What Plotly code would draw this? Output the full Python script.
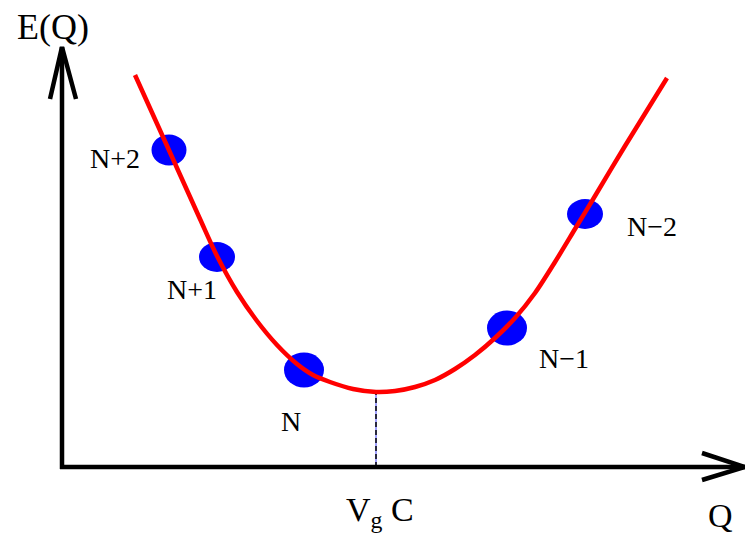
import plotly.graph_objects as go

# Charging energy E(Q) versus island charge Q (axis origin at Q=0, E=0)
curve_q = [73, 106, 138, 155, 175, 195, 215, 235, 251, 268, 291, 314,
           333, 353, 373, 393, 413, 433, 453, 473, 493, 513, 533, 563, 605]
curve_e = [392, 319, 248, 211, 175, 146, 122, 103, 92, 85, 78, 75,
           76, 80, 87, 98, 112, 129, 149, 174, 205, 238, 271, 321, 389]

# Charge states N+2 ... N-2 sitting on the curve
state_labels = ["N+2", "N+1", "N", "N\u22121", "N\u22122"]
state_q = [107, 155, 242, 445, 523]
state_e = [317, 210, 97, 139, 253]
label_q = [52.5, 129.5, 229, 501.5, 589.5]
label_e = [308.5, 177.5, 46, 109, 240.5]

# Gate-charge position of the minimum
vgc_q = 314
vgc_e = 74

# Axis extents (arrow tips)
q_axis_end = 683
e_axis_end = 420

# styling
dot_w = [35, 36, 40, 40, 36]
dot_h = [31, 30, 35, 35, 30]
serif = "Liberation Serif"

fig = go.Figure()

fig.add_trace(go.Scatter(
    x=curve_q, y=curve_e, mode="lines",
    line=dict(color="#ff0000", width=4.5, shape="spline", smoothing=0.8),
    hoverinfo="skip", showlegend=False,
))

shapes = []
for q, e, w, h in zip(state_q, state_e, dot_w, dot_h):
    shapes.append(dict(type="circle", xref="x", yref="y",
                       x0=q - w / 2, x1=q + w / 2, y0=e - h / 2, y1=e + h / 2,
                       fillcolor="#0000ff", line=dict(width=0), layer="below"))

# dashed marker under the minimum
shapes.append(dict(type="line", x0=vgc_q, x1=vgc_q, y0=0, y1=vgc_e,
                   line=dict(color="#8080ff", width=1.5), layer="below"))
shapes.append(dict(type="line", x0=vgc_q, x1=vgc_q, y0=0, y1=vgc_e,
                   line=dict(color="#000000", width=1.5, dash="5px,3px"), layer="below"))

# axes with open arrowheads
ax = dict(color="#000000", width=4.5)
shapes += [
    dict(type="line", x0=0, x1=0, y0=-2, y1=e_axis_end, line=ax),
    dict(type="line", x0=-2, x1=q_axis_end, y0=0, y1=0, line=ax),
    dict(type="path", path=f"M -12,{e_axis_end - 52} L 0,{e_axis_end} L 14,{e_axis_end - 52}", line=ax),
    dict(type="path", path=f"M {q_axis_end - 43},14 L {q_axis_end},0 L {q_axis_end - 43},-13", line=ax),
]

annotations = []
for t, q, e in zip(state_labels, label_q, label_e):
    annotations.append(dict(x=q, y=e, text=t, showarrow=False,
                            font=dict(family=serif, size=28, color="#000000"),
                            xanchor="center", yanchor="middle"))
annotations += [
    dict(x=-9, y=440, text="E(Q)", showarrow=False,
         font=dict(family=serif, size=36, color="#000000"),
         xanchor="center", yanchor="middle"),
    dict(x=658, y=-48, text="Q", showarrow=False,
         font=dict(family=serif, size=34, color="#000000"),
         xanchor="center", yanchor="middle"),
    dict(x=vgc_q + 4, y=-45, text="V<sub>g</sub> C", showarrow=False,
         font=dict(family=serif, size=34, color="#000000"),
         xanchor="center", yanchor="middle"),
]

fig.update_layout(
    width=745, height=541,
    margin=dict(l=0, r=0, t=0, b=0),
    paper_bgcolor="#ffffff", plot_bgcolor="#ffffff",
    xaxis=dict(range=[-62, 683], visible=False, fixedrange=True),
    yaxis=dict(range=[-74, 467], visible=False, fixedrange=True),
    shapes=shapes, annotations=annotations,
    showlegend=False,
)

fig.write_html("out.html")
